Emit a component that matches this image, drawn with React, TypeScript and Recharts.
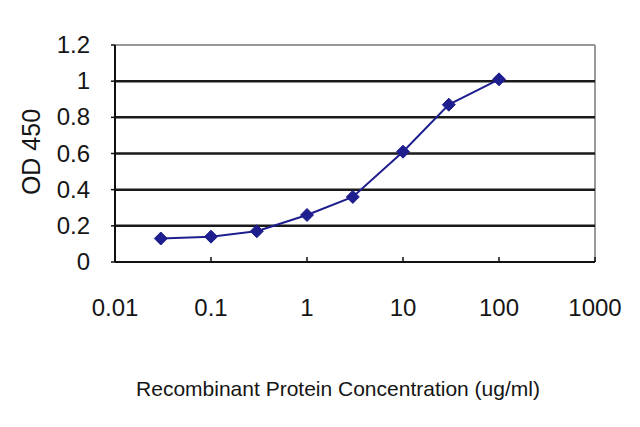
import React from "react";
import { LineChart, Line, XAxis, YAxis, ReferenceLine } from "recharts";

const concentrations = [0.03, 0.1, 0.3, 1, 3, 10, 30, 100];
const odValues = [0.13, 0.14, 0.17, 0.26, 0.36, 0.61, 0.87, 1.01];
const xTicks = [0.01, 0.1, 1, 10, 100, 1000];
const yTicks = [0, 0.2, 0.4, 0.6, 0.8, 1, 1.2];
const gridValues = [0.2, 0.4, 0.6, 0.8, 1];

const data = concentrations.map((c, i) => ({ x: c, y: odValues[i] }));

const FONT = "Arial, 'Liberation Sans', sans-serif";
const LINE_COLOR = "#1e1e8e";
const TEXT_COLOR = "#151515";

const XTick = (props: any) => {
  const { x, y, payload } = props;
  return (
    <g>
      <line x1={x} x2={x} y1={y} y2={y - 5} stroke="#111" strokeWidth={1.5} />
      <text x={x} y={y + 54} textAnchor="middle" fontFamily={FONT} fontSize={24} fill={TEXT_COLOR}>
        {String(payload.value)}
      </text>
    </g>
  );
};

const YTick = (props: any) => {
  const { x, y, payload } = props;
  return (
    <g>
      <line x1={x} x2={x - 4} y1={y} y2={y} stroke="#111" strokeWidth={1.5} />
      <text x={x - 25} y={y + 8} textAnchor="end" fontFamily={FONT} fontSize={24} fill={TEXT_COLOR}>
        {String(payload.value)}
      </text>
    </g>
  );
};

const Diamond = (props: any) => {
  const { cx, cy } = props;
  if (cx == null || cy == null) return null;
  const r = 6.5;
  return (
    <path
      d={`M${cx},${cy - r} L${cx + r},${cy} L${cx},${cy + r} L${cx - r},${cy} Z`}
      fill={LINE_COLOR}
      stroke={LINE_COLOR}
    />
  );
};

export default function App() {
  return (
    <div style={{ position: "absolute", left: 0, top: 0, width: 640, height: 427, background: "#fff" }}>
      <LineChart
        width={640}
        height={427}
        data={data}
        margin={{ top: 45, right: 45, left: 55, bottom: 125 }}
      >
        <ReferenceLine y={1.2} stroke="#999" strokeWidth={2} ifOverflow="extendDomain" />
        <ReferenceLine x={1000} stroke="#999" strokeWidth={2} />
        {gridValues.map((v) => (
          <ReferenceLine key={v} y={v} stroke="#1a1a1a" strokeWidth={2.5} />
        ))}
        <XAxis
          dataKey="x"
          type="number"
          scale="log"
          domain={[0.01, 1000]}
          ticks={xTicks}
          allowDataOverflow
          height={40}
          tickSize={0}
          tickMargin={0}
          tick={<XTick />}
          axisLine={{ stroke: "#111", strokeWidth: 2 }}
          tickLine={false}
          interval={0}
        />
        <YAxis
          type="number"
          domain={[0, 1.2]}
          ticks={yTicks}
          width={60}
          tickSize={0}
          tickMargin={0}
          tick={<YTick />}
          axisLine={{ stroke: "#111", strokeWidth: 2 }}
          tickLine={false}
          interval={0}
        />
        <Line
          dataKey="y"
          stroke={LINE_COLOR}
          strokeWidth={2}
          dot={<Diamond />}
          isAnimationActive={false}
          type="linear"
        />
        <text x={31} y={152} transform="rotate(-90 31 152)" textAnchor="middle" dominantBaseline="central" fontFamily={FONT} fontSize={25} fill={TEXT_COLOR}>
          OD 450
        </text>
        <text x={338} y={396} textAnchor="middle" fontFamily={FONT} fontSize={21} fill={TEXT_COLOR}>
          Recombinant Protein Concentration (ug/ml)
        </text>
      </LineChart>
    </div>
  );
}
